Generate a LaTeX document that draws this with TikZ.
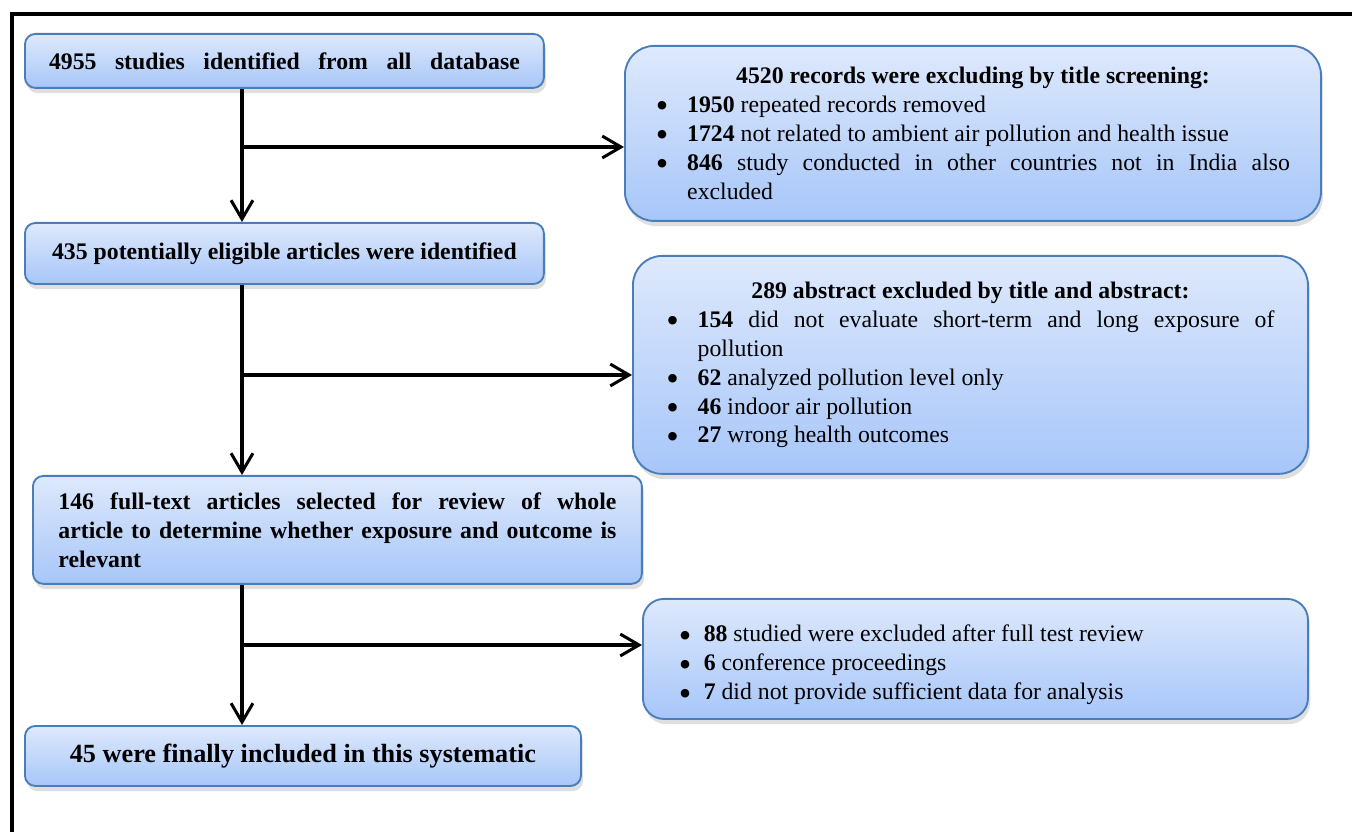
\documentclass[tikz,border=0pt]{standalone}
\usepackage{fontspec}
\usepackage{graphicx}
\setmainfont{Liberation Serif}
\usetikzlibrary{arrows.meta}
\usetikzlibrary{shadows}

\definecolor{boxtop}{HTML}{DEE9FC}
\definecolor{boxbottom}{HTML}{A7C6F9}
\definecolor{boxline}{HTML}{4A7EBB}

\hyphenpenalty=10000
\exhyphenpenalty=10000

% one bulleted line with hanging indent
\newcommand{\bigdot}{\raisebox{-0.22em}[0pt][0pt]{\scalebox{1.5}{\textbullet}}}
\newcommand{\bitem}[2][15pt]{\par\noindent\hangindent=#1\hangafter=1\makebox[#1][l]{\bigdot}#2\par}

\begin{document}
\begin{tikzpicture}[x=0.48pt,y=-0.48pt,>={Straight Barb[length=9pt,width=10.5pt]},
    line width=1.45pt,
    base box/.style={rectangle,draw=boxline,line width=0.9pt,
        top color=boxtop,bottom color=boxbottom,
        drop shadow={shadow xshift=1pt,shadow yshift=-2.5pt,opacity=0.25},
        anchor=north west,font=\fontsize{11.4pt}{13.9pt}\selectfont},
    flow box/.style={base box,rounded corners=5pt},
    excl box/.style={base box,rounded corners=14pt,align=justify,inner sep=0pt}]

  \useasboundingbox (0,0) rectangle (1352,832);
  \draw[line width=1.5pt] (12,832) -- (12,14) -- (1352,14);

  % main flow
  \node[flow box,minimum width=249.1pt,minimum height=25.9pt] (found) at (24,33)
    {\makebox[226pt][s]{\bfseries 4955 studies identified from all database}};
  \node[flow box,minimum width=249.1pt,minimum height=29.3pt] (eligible) at (24,222)
    {\bfseries 435 potentially eligible articles were identified};
  \node[flow box,minimum width=292.3pt,minimum height=51.8pt,text width=267.8pt,align=justify] (fulltext) at (32,475)
    {\bfseries 146 full-text articles selected for review of whole\linebreak
     article to determine whether exposure and outcome is\linebreak relevant};
  \node[flow box,minimum width=266.9pt,minimum height=28.8pt,
        font=\fontsize{12.6pt}{16pt}\selectfont\bfseries] (included) at (24,725)
    {45 were finally included in this systematic};

  % excluded records
  \node[excl box,minimum width=334.1pt,minimum height=84pt,text width=304.3pt] (bytitle) at (624,45)
    {\noindent{\centering\bfseries 4520 records were excluding by title screening:\par}
     \bitem{\textbf{1950} repeated records removed}
     \bitem{\textbf{1724} not related to ambient air pollution and health issue}
     \bitem{\textbf{846} study conducted in other countries not in India also\linebreak excluded}};
  \node[excl box,minimum width=324pt,minimum height=104.6pt,text width=291.8pt] (byabstract) at (632,255)
    {\noindent{\centering\bfseries 289 abstract excluded by title and abstract:\par}
     \bitem{\textbf{154} did not evaluate short-term and long exposure of\linebreak pollution}
     \bitem{\textbf{62} analyzed pollution level only}
     \bitem{\textbf{46} indoor air pollution}
     \bitem{\textbf{27} wrong health outcomes}};
  \node[excl box,rounded corners=10pt,minimum width=319.2pt,minimum height=57.6pt,text width=284.8pt] (byfulltext) at (642,598)
    {\bitem[12pt]{\textbf{88} studied were excluded after full test review}
     \bitem[12pt]{\textbf{6} conference proceedings}
     \bitem[12pt]{\textbf{7} did not provide sufficient data for analysis}};

  \coordinate (split1) at (242,147);
  \coordinate (split2) at (242,375);
  \coordinate (split3) at (242,645);

  \draw[->] (found.south -| split1) -- (split1 |- eligible.north);
  \draw[->] (split1) -- (split1 -| bytitle.west);
  \draw[->] (eligible.south -| split2) -- (split2 |- fulltext.north);
  \draw[->] (split2) -- (split2 -| byabstract.west);
  \draw[->] (fulltext.south -| split3) -- (split3 |- included.north);
  \draw[->] (split3) -- (split3 -| byfulltext.west);
\end{tikzpicture}
\end{document}
